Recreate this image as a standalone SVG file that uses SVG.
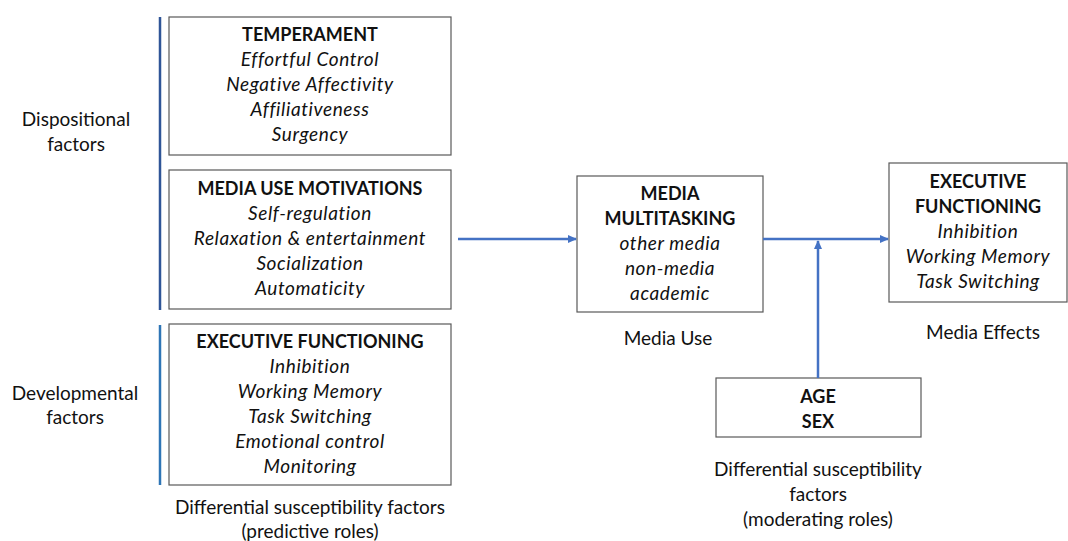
<svg xmlns="http://www.w3.org/2000/svg" width="1068" height="541" viewBox="0 0 1068 541">
<style>
text{font-family:Lato,"Open Sans","Liberation Sans",sans-serif;font-size:19px;fill:#111;text-anchor:middle}
.b{font-size:18px;font-weight:bold}
.i{font-style:italic;letter-spacing:0.6px}
.box{fill:#fff;stroke:#595959;stroke-width:1.2}
.c{stroke:#4472C4;stroke-width:2.5;fill:none}
</style>
<defs>
<marker id="ah" markerWidth="9" markerHeight="8" refX="8" refY="4" orient="auto" markerUnits="userSpaceOnUse"><path d="M0,0 L9,4 L0,8 z" fill="#4472C4"/></marker>
</defs>
<rect width="1068" height="541" fill="#fff"/>
<g id="side-labels">
<line x1="160" y1="17" x2="160" y2="310" stroke="#2F5597" stroke-width="2.5"/>
<line x1="160" y1="325" x2="160" y2="485" stroke="#2E75B6" stroke-width="2.5"/>
<text x="76" y="126">Dispositional</text>
<text x="76" y="151">factors</text>
<text x="75" y="400">Developmental</text>
<text x="75" y="424">factors</text>
</g>
<g id="temperament">
<rect class="box" x="169" y="17" width="282" height="138"/>
<text x="310" y="41" class="b">TEMPERAMENT</text>
<text x="310" y="66" class="i">Effortful Control</text>
<text x="310" y="91" class="i">Negative Affectivity</text>
<text x="310" y="116" class="i">Affiliativeness</text>
<text x="310" y="141" class="i">Surgency</text>
</g>
<g id="motivations">
<rect class="box" x="169" y="170" width="282" height="139"/>
<text x="310" y="195" class="b">MEDIA USE MOTIVATIONS</text>
<text x="310" y="220" class="i">Self-regulation</text>
<text x="310" y="245" class="i">Relaxation &amp; entertainment</text>
<text x="310" y="270" class="i">Socialization</text>
<text x="310" y="295" class="i">Automaticity</text>
</g>
<g id="ef-left">
<rect class="box" x="169" y="324" width="282" height="161"/>
<text x="310" y="348" class="b">EXECUTIVE FUNCTIONING</text>
<text x="310" y="373" class="i">Inhibition</text>
<text x="310" y="398" class="i">Working Memory</text>
<text x="310" y="423" class="i">Task Switching</text>
<text x="310" y="448" class="i">Emotional control</text>
<text x="310" y="473" class="i">Monitoring</text>
<text x="310" y="514">Differential susceptibility factors</text>
<text x="310" y="538">(predictive roles)</text>
</g>
<g id="multitasking">
<rect class="box" x="577" y="176" width="186" height="136"/>
<text x="670" y="200" class="b">MEDIA</text>
<text x="670" y="225" class="b">MULTITASKING</text>
<text x="670" y="250" class="i">other media</text>
<text x="670" y="275" class="i">non-media</text>
<text x="670" y="300" class="i">academic</text>
<text x="668" y="345">Media Use</text>
</g>
<g id="ef-right">
<rect class="box" x="889" y="163" width="178" height="139"/>
<text x="978" y="188" class="b">EXECUTIVE</text>
<text x="978" y="213" class="b">FUNCTIONING</text>
<text x="978" y="238" class="i">Inhibition</text>
<text x="978" y="263" class="i">Working Memory</text>
<text x="978" y="288" class="i">Task Switching</text>
<text x="983" y="339">Media Effects</text>
</g>
<g id="age-sex">
<rect class="box" x="716" y="378" width="205" height="59"/>
<text x="818" y="403" class="b">AGE</text>
<text x="818" y="428" class="b">SEX</text>
<text x="818" y="476">Differential susceptibility</text>
<text x="818" y="501">factors</text>
<text x="818" y="526">(moderating roles)</text>
</g>
<g id="connectors">
<line class="c" x1="458" y1="239" x2="576" y2="239" marker-end="url(#ah)"/>
<line class="c" x1="763" y1="239" x2="888" y2="239" marker-end="url(#ah)"/>
<line class="c" x1="818" y1="378" x2="818" y2="241" marker-end="url(#ah)"/>
</g>
</svg>
